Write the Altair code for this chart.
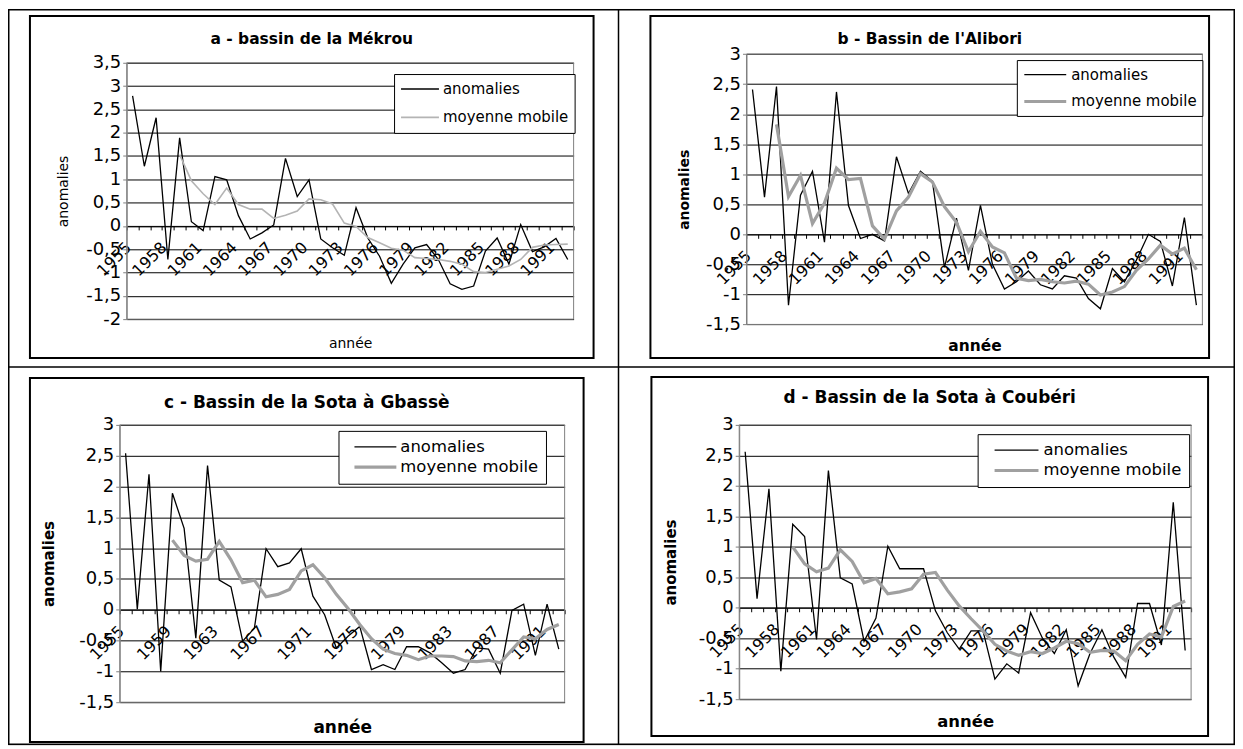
import altair as alt
import pandas as pd

FONT = "DejaVu Sans"

years = [1955, 1956, 1957, 1958, 1959, 1960, 1961, 1962, 1963, 1964,
         1965, 1966, 1967, 1968, 1969, 1970, 1971, 1972, 1973, 1974,
         1975, 1976, 1977, 1978, 1979, 1980, 1981, 1982, 1983, 1984,
         1985, 1986, 1987, 1988, 1989, 1990, 1991, 1992]
series_names = ["anomalies", "moyenne mobile"]

# a - bassin de la Mékrou
a_anomalies = [2.79, 1.28, 2.32, -0.72, 1.89, 0.09, -0.10, 1.06, 0.99, 0.22,
               -0.28, -0.15, 0.02, 1.45, 0.63, 0.99, -0.28, -0.47, -0.63, 0.39,
               -0.26, -0.65, -1.23, -0.82, -0.47, -0.40, -0.72, -1.24, -1.36, -1.29,
               -0.54, -0.26, -0.82, 0.03, -0.55, -0.45, -0.27, -0.72]
a_moyenne_start = 1959
a_moyenne = [1.53, 0.97, 0.69, 0.46, 0.81, 0.46, 0.36, 0.36, 0.16, 0.23,
             0.32, 0.58, 0.56, 0.47, 0.06, -0.01, -0.25, -0.36, -0.48, -0.52,
             -0.68, -0.70, -0.72, -0.76, -0.82, -0.98, -1.00, -0.93, -0.86, -0.72,
             -0.46, -0.41, -0.40, -0.39]

# b - Bassin de l'Alibori
b_anomalies = [2.41, 0.62, 2.46, -1.18, 0.65, 1.05, -0.13, 2.37, 0.48, -0.07,
               0.00, -0.11, 1.29, 0.68, 1.05, 0.88, -0.55, 0.27, -0.60, 0.48,
               -0.50, -0.91, -0.79, -0.61, -0.84, -0.91, -0.69, -0.73, -1.07, -1.24,
               -0.57, -0.79, -0.43, 0.00, -0.12, -0.86, 0.28, -1.18]
b_moyenne_start = 1957
b_moyenne = [1.83, 0.63, 0.98, 0.18, 0.52, 1.10, 0.91, 0.93, 0.14, -0.08,
             0.39, 0.62, 1.01, 0.87, 0.46, 0.20, -0.29, 0.05, -0.21, -0.31,
             -0.73, -0.77, -0.75, -0.79, -0.81, -0.78, -0.83, -1.01, -0.96, -0.87,
             -0.60, -0.41, -0.18, -0.33, -0.23, -0.59]

# c - Bassin de la Sota à Gbassè
c_anomalies = [2.54, 0.01, 2.20, -1.00, 1.89, 1.32, -0.46, 2.34, 0.48, 0.37,
               -0.51, -0.30, 0.99, 0.70, 0.76, 0.99, 0.22, -0.08, -0.62, -0.43,
               -0.27, -0.97, -0.89, -0.97, -0.60, -0.60, -0.70, -0.86, -1.03, -0.97,
               -0.62, -0.64, -1.03, -0.01, 0.09, -0.74, 0.09, -0.64]
c_moyenne_start = 1959
c_moyenne = [1.13, 0.88, 0.79, 0.82, 1.11, 0.81, 0.44, 0.48, 0.21, 0.25,
             0.33, 0.63, 0.73, 0.52, 0.25, 0.02, -0.24, -0.47, -0.64, -0.71,
             -0.74, -0.81, -0.75, -0.75, -0.76, -0.83, -0.84, -0.82, -0.86, -0.65,
             -0.44, -0.47, -0.32, -0.24]

# d - Bassin de la Sota à Coubéri
d_anomalies = [2.56, 0.15, 1.95, -1.04, 1.37, 1.17, -0.52, 2.25, 0.49, 0.39,
               -0.55, -0.17, 1.01, 0.64, 0.64, 0.64, -0.05, -0.41, -0.68, -0.38,
               -0.38, -1.17, -0.92, -1.07, -0.08, -0.50, -0.75, -0.36, -1.28, -0.75,
               -0.36, -0.81, -1.14, 0.07, 0.07, -0.61, 1.73, -0.70]
d_moyenne_start = 1959
d_moyenne = [1.00, 0.72, 0.59, 0.65, 0.95, 0.76, 0.41, 0.48, 0.23, 0.26,
             0.31, 0.55, 0.58, 0.29, 0.03, -0.18, -0.38, -0.60, -0.71, -0.78,
             -0.72, -0.75, -0.66, -0.55, -0.59, -0.73, -0.70, -0.71, -0.87, -0.60,
             -0.43, -0.48, 0.02, 0.11]

titles = ["a - bassin de la Mékrou", "b - Bassin de l'Alibori",
          "c - Bassin de la Sota à Gbassè", "d - Bassin de la Sota à Coubéri"]
y_ticks_a = [-2, -1.5, -1, -0.5, 0, 0.5, 1, 1.5, 2, 2.5, 3, 3.5]
y_ticks_bcd = [-1.5, -1, -0.5, 0, 0.5, 1, 1.5, 2, 2.5, 3]

# ---- layout: pixel coordinates inside the drawing (page coordinates minus the 8px margin)
W, H = 1230, 738
panels = [
    dict(anom=a_anomalies, mm=a_moyenne, start=a_moyenne_start, title=titles[0],
         ydom=[-2, 3.5], yticks=y_ticks_a, step=3, bold=False,
         plot=(119, 54, 567, 311), frame=(22, 7, 587, 350),
         tpos=(304.5, 34.7), tfs=15.5, ytx=56, ytfs=14, xtb=339, xtfs=14,
         mm_color="#b4b4b4", mm_width=1.6,
         leg=dict(x=387, y=65.3, fs=15, L=38, pad=6, so=0, lo=3, ch=18, rp=10.4)),
    dict(anom=b_anomalies, mm=b_moyenne, start=b_moyenne_start, title=titles[1],
         ydom=[-1.5, 3], yticks=y_ticks_bcd, step=3, bold=True,
         plot=(740.3, 45.3, 1197.3, 316.3), frame=(644, 7, 1204, 350),
         tpos=(924, 34.7), tfs=15.5, ytx=678, ytfs=14, xtb=342, xtfs=15.5,
         mm_color="#a0a0a0", mm_width=3.2,
         leg=dict(x=1011.3, y=51.3, fs=15, L=42, pad=5.5, so=0, lo=3, ch=18, rp=9)),
    dict(anom=c_anomalies, mm=c_moyenne, start=c_moyenne_start, title=titles[2],
         ydom=[-1.5, 3], yticks=y_ticks_bcd, step=4, bold=True,
         plot=(112, 417, 558, 695), frame=(22, 370, 577, 735),
         tpos=(299.5, 400.3), tfs=17, ytx=41, ytfs=15, xtb=725, xtfs=17,
         mm_color="#a0a0a0", mm_width=3.2,
         leg=dict(x=331.3, y=423, fs=16.5, L=42, pad=7, so=7, lo=2, ch=18, rp=2.3)),
    dict(anom=d_anomalies, mm=d_moyenne, start=d_moyenne_start, title=titles[3],
         ydom=[-1.5, 3], yticks=y_ticks_bcd, step=3, bold=True,
         plot=(733, 417, 1186, 692), frame=(645, 369, 1203, 729),
         tpos=(924, 395.3), tfs=17, ytx=664.5, ytfs=15, xtb=719, xtfs=16.5,
         mm_color="#a0a0a0", mm_width=3.2,
         leg=dict(x=972, y=426.3, fs=16.5, L=44, pad=7, so=8, lo=3, ch=18, rp=2.4)),
]
table_mid_x, table_mid_y = 612, 359


def build_df(anom, mm, start):
    i0 = years.index(start)
    rows = [{"annee": y, "valeur": v, "serie": series_names[0]} for y, v in zip(years, anom)]
    rows += [{"annee": y, "valeur": v, "serie": series_names[1]} for y, v in zip(years[i0:], mm)]
    return pd.DataFrame(rows)


def one_row():
    return alt.Data(values=[{"k": 0}])


def box(x0, y0, x1, y1, sw, color="#000000"):
    h = sw / 2.0
    return alt.Chart(one_row()).mark_rect(
        fill="#ffffff", fillOpacity=0, stroke=color, strokeWidth=sw
    ).encode(x=alt.value(x0 + h), x2=alt.value(x1 - h), y=alt.value(y0 + h), y2=alt.value(y1 - h))


def hline(x0, x1, y, sw):
    return alt.Chart(one_row()).mark_rule(color="#000000", strokeWidth=sw).encode(
        x=alt.value(x0), x2=alt.value(x1), y=alt.value(y))


def vline(x, y0, y1, sw):
    return alt.Chart(one_row()).mark_rule(color="#000000", strokeWidth=sw).encode(
        x=alt.value(x), y=alt.value(y0), y2=alt.value(y1))


def panel(p):
    L, T, R, B = p["plot"]
    ymin, ymax = p["ydom"]
    zero = T + (B - T) * ymax / (ymax - ymin)
    weight = "bold" if p["bold"] else "normal"
    df = build_df(p["anom"], p["mm"], p["start"])

    lg = p["leg"]
    legend = alt.Legend(
        title=None, orient="none", legendX=lg["x"], legendY=lg["y"],
        direction="vertical", strokeColor="#000000", fillColor="#ffffff",
        padding=lg["pad"], labelFont=FONT, labelFontSize=lg["fs"], labelColor="#000000",
        symbolType="stroke", symbolSize=lg["L"] * lg["L"], symbolOffset=lg["so"],
        labelOffset=lg["lo"], clipHeight=lg["ch"], rowPadding=lg["rp"], labelLimit=400,
        cornerRadius=0,
    )

    step = p["step"]
    xaxis = alt.Axis(
        orient="bottom", offset=zero - H,
        title="année", titleFont=FONT, titleFontSize=p["xtfs"], titleFontWeight=weight,
        titleColor="#000000", titleX=(L + R) / 2.0, titleY=p["xtb"] - zero,
        titleBaseline="alphabetic", titleAlign="center",
        domainColor="#000000", domainWidth=1,
        tickColor="#000000", tickSize=4, tickWidth=1, tickBand="extent",
        labelExpr=f"(datum.value - 1955) % {step} == 0 ? datum.label : ''",
        labelAngle=315, labelAlign="right", labelBaseline="top",
        labelPadding=9, labelOffset=-10, labelFont=FONT, labelFontSize=16,
        labelColor="#000000", labelOverlap=False, grid=False,
    )
    yaxis = alt.Axis(
        orient="left", offset=-L,
        values=p["yticks"],
        labelExpr="(datum.value < 0 ? '-' : '') + replace(toString(abs(datum.value)), '.', ',')",
        labelFont=FONT, labelFontSize=18, labelColor="#000000", labelPadding=2,
        domainColor="#808080", domainWidth=1, tickColor="#808080", tickSize=4,
        grid=True, gridColor="#000000", gridWidth=1, gridOpacity=1,
        title="anomalies", titleFont=FONT, titleFontSize=p["ytfs"], titleFontWeight=weight,
        titleColor="#000000", titleAngle=270, titleX=p["ytx"] - L, titleY=(T + B) / 2.0,
        titleAlign="center", titleBaseline="middle",
    )

    base = alt.Chart(df).encode(
        x=alt.X("annee:O", scale=alt.Scale(type="band", paddingInner=0, paddingOuter=0, range=[L, R]),
                axis=xaxis),
        y=alt.Y("valeur:Q", scale=alt.Scale(domain=[ymin, ymax], nice=False, zero=False, range=[B, T]),
                axis=yaxis),
        color=alt.Color("serie:N", scale=alt.Scale(domain=series_names, range=["#000000", p["mm_color"]]),
                        legend=legend),
        strokeWidth=alt.StrokeWidth("serie:N", scale=alt.Scale(domain=series_names, range=[1.3, p["mm_width"]]),
                                    legend=legend),
    )
    anom_line = base.transform_filter(alt.datum.serie == series_names[0]).mark_line()
    mm_line = base.transform_filter(alt.datum.serie == series_names[1]).mark_line()
    lines = alt.layer(anom_line, mm_line)

    fx0, fy0, fx1, fy1 = p["frame"]
    frame = box(fx0 - 1, fy0 - 1, fx1 + 1, fy1 + 1, 2)
    border = box(L - 0.5, T - 0.5, R + 0.5, B + 0.5, 1, "#808080")

    tx, ty = p["tpos"]
    title = alt.Chart(one_row()).mark_text(
        font=FONT, fontSize=p["tfs"], fontWeight="bold", align="center", baseline="alphabetic",
        color="#000000"
    ).encode(x=alt.value(tx), y=alt.value(ty), text=alt.value(p["title"]))
    return [frame, border, lines, title]


layers = [
    box(0, 0, W, H, 1.5),
    vline(table_mid_x, 0, H, 1.5),
    hline(0, W, table_mid_y, 1.5),
]
for p in panels:
    layers += panel(p)

chart = (
    alt.layer(*layers)
    .resolve_scale(x="independent", y="independent", color="independent", strokeWidth="independent")
    .resolve_axis(x="independent", y="independent")
    .resolve_legend(color="independent", strokeWidth="independent")
    .properties(width=W, height=H, padding=0, background="#ffffff",
                autosize=alt.AutoSizeParams(type="none"))
    .configure_view(stroke="transparent")
    .configure(font=FONT)
)

chart.save("out.html", embed_options={"renderer": "svg", "actions": False})
